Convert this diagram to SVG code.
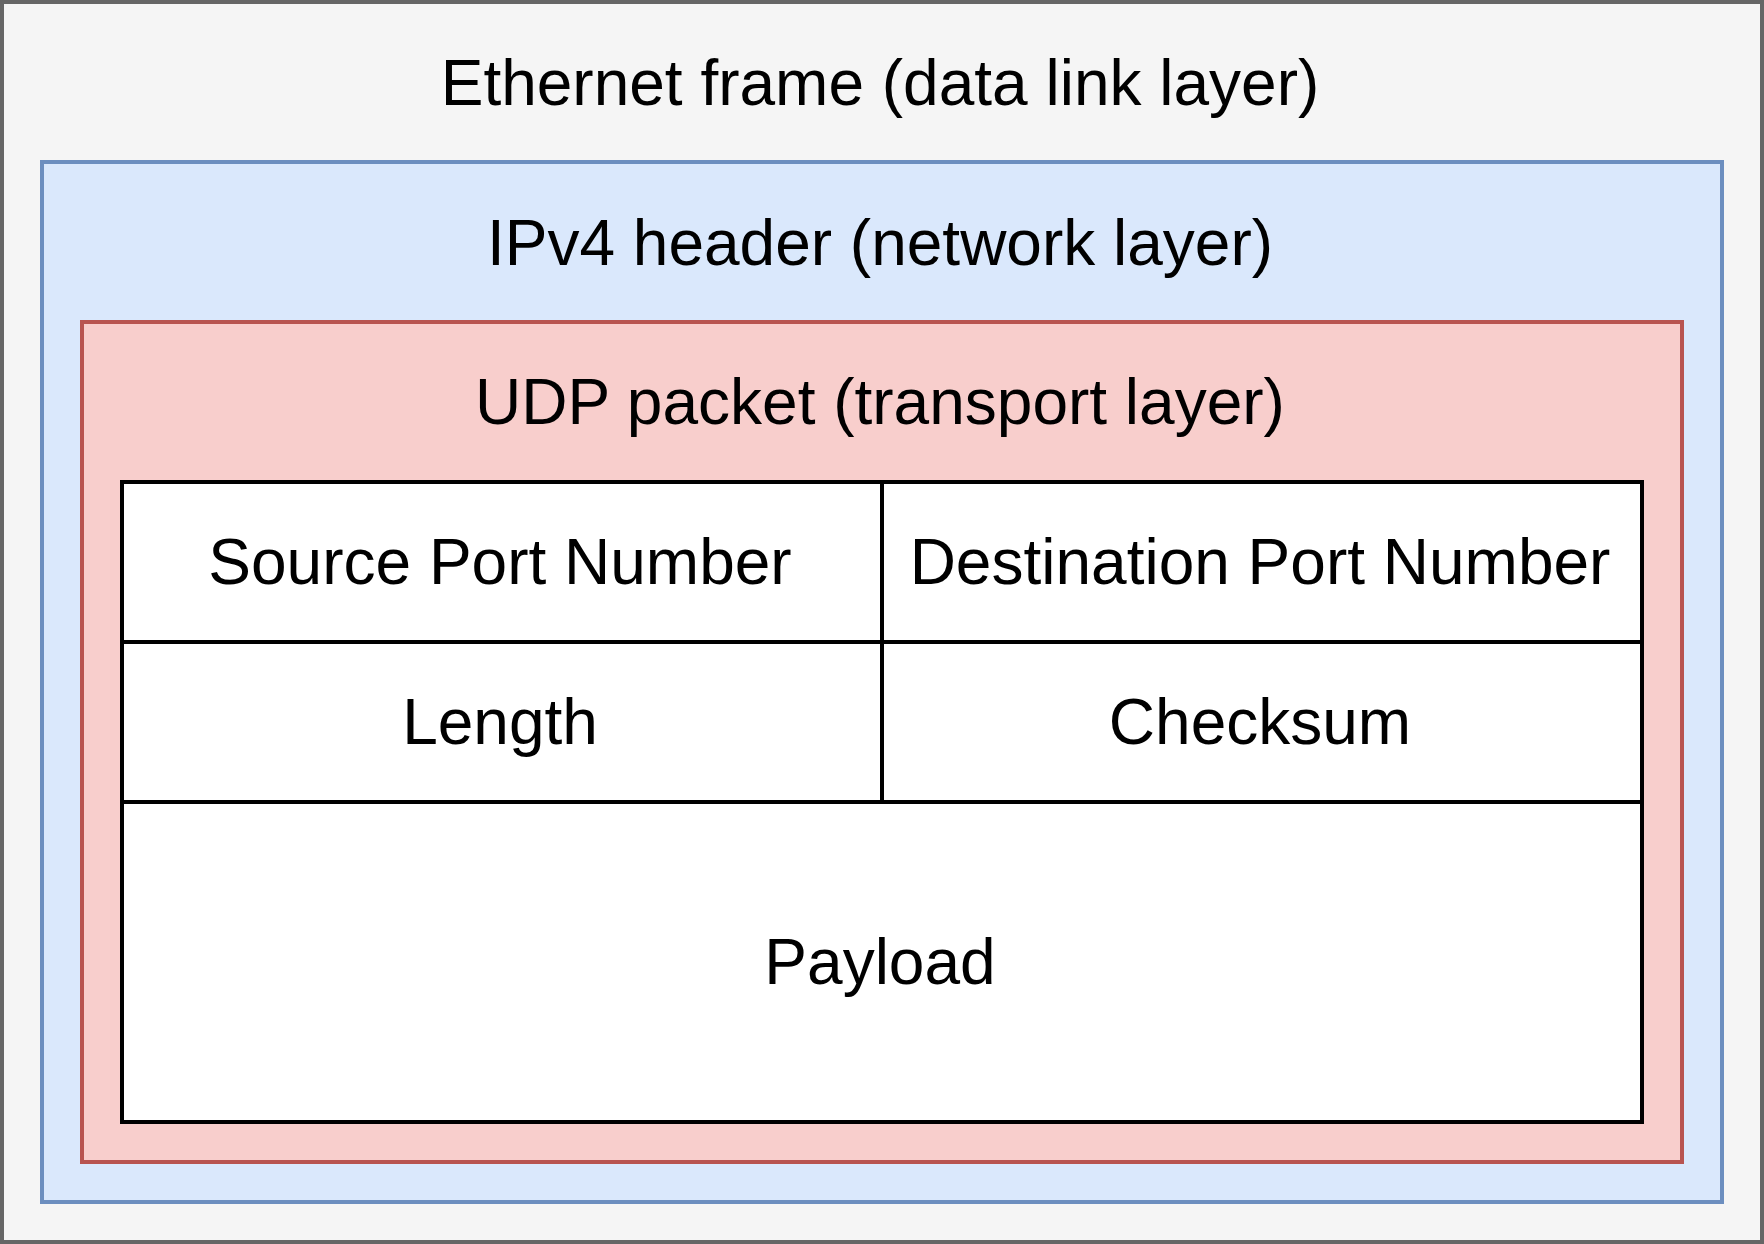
<svg xmlns="http://www.w3.org/2000/svg" width="1764" height="1244" viewBox="0 0 1764 1244">
<style>
text{font-family:"Liberation Sans",Arial,Helvetica,sans-serif;font-size:64px;fill:#000;text-anchor:middle}
.cell{fill:#fff;stroke:#000;stroke-width:4}
</style>
<g id="ethernet">
<rect x="2" y="2" width="1760" height="1240" fill="#f5f5f5" stroke="#666666" stroke-width="4"/>
<text x="880" y="105">Ethernet frame (data link layer)</text>
</g>
<g id="ipv4">
<rect x="42" y="162" width="1680" height="1040" fill="#dae8fc" stroke="#6c8ebf" stroke-width="4"/>
<text x="880" y="265">IPv4 header (network layer)</text>
</g>
<g id="udp">
<rect x="82" y="322" width="1600" height="840" fill="#f8cecc" stroke="#b85450" stroke-width="4"/>
<text x="880" y="424">UDP packet (transport layer)</text>
</g>
<g id="source-port">
<rect class="cell" x="122" y="482" width="760" height="160"/>
<text x="500" y="584">Source Port Number</text>
</g>
<g id="dest-port">
<rect class="cell" x="882" y="482" width="760" height="160"/>
<text x="1260" y="584">Destination Port Number</text>
</g>
<g id="length">
<rect class="cell" x="122" y="642" width="760" height="160"/>
<text x="500" y="744">Length</text>
</g>
<g id="checksum">
<rect class="cell" x="882" y="642" width="760" height="160"/>
<text x="1260" y="744">Checksum</text>
</g>
<g id="payload">
<rect class="cell" x="122" y="802" width="1520" height="320"/>
<text x="880" y="984">Payload</text>
</g>
<g id="connectors"></g>
</svg>
